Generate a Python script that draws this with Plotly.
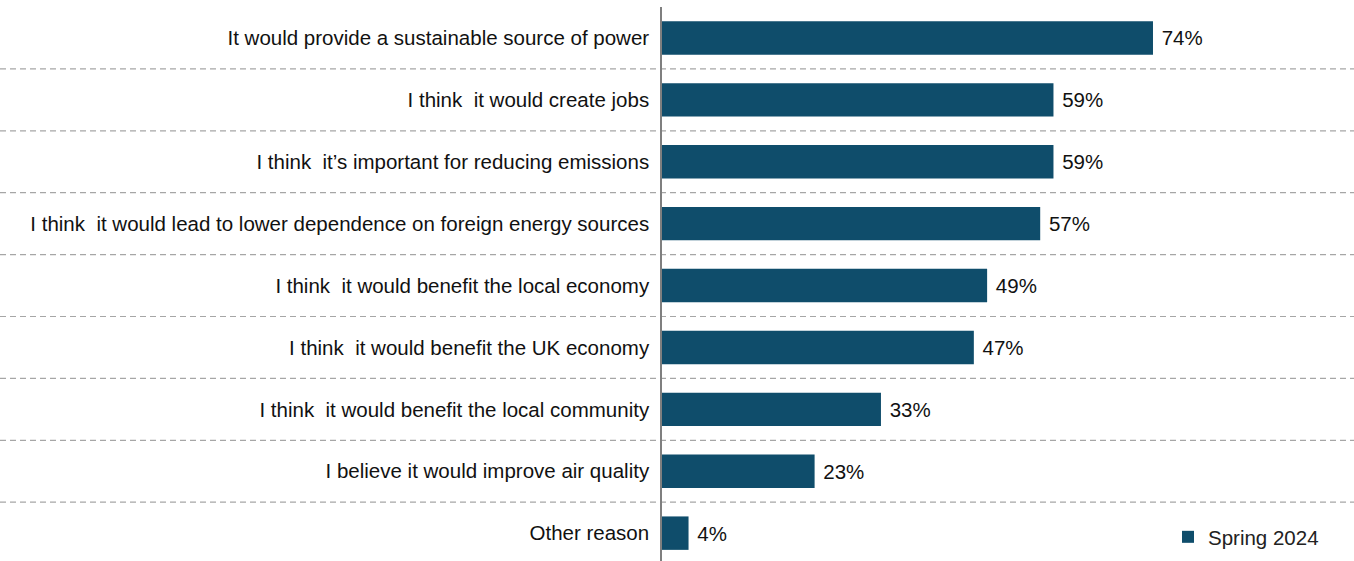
import plotly.graph_objects as go

categories = [
    "It would provide a sustainable source of power",
    "I think  it would create jobs",
    "I think  it’s important for reducing emissions",
    "I think  it would lead to lower dependence on foreign energy sources",
    "I think  it would benefit the local economy",
    "I think  it would benefit the UK economy",
    "I think  it would benefit the local community",
    "I believe it would improve air quality",
    "Other reason",
]
values = [74, 59, 59, 57, 49, 47, 33, 23, 4]
series_name = "Spring 2024"

W, H = 1354, 561
ML, MT = 662, 7
BAR_COLOR = "#0f4d6b"
FONT = "Liberation Sans, Arial, sans-serif"
FS = 20.5

fig = go.Figure()
fig.add_trace(go.Bar(
    x=values, y=categories, orientation="h",
    marker=dict(color=BAR_COLOR, line=dict(width=0)),
    width=0.54,
    text=[f"\u00a0{v}%" for v in values], textposition="outside",
    textfont=dict(size=FS, color="#111111", family=FONT),
    cliponaxis=False,
    name=series_name, showlegend=True,
))

plot_w = W - ML
plot_h = H - MT
for k in range(len(categories) - 1):
    fig.add_shape(type="line", xref="paper", yref="y",
                  x0=-ML / plot_w, x1=1, y0=k + 0.5, y1=k + 0.5,
                  line=dict(color="#a6a6a6", width=1.2, dash="6px,4px"), layer="below")

fig.update_layout(
    width=W, height=H,
    margin=dict(l=ML, r=0, t=MT, b=0, pad=0, autoexpand=False),
    plot_bgcolor="white", paper_bgcolor="white",
    font=dict(family=FONT, size=FS, color="#111111"),
    showlegend=True,
    legend=dict(x=(1168 - ML) / plot_w, y=(H - 537) / plot_h,
                xanchor="left", yanchor="middle",
                font=dict(size=FS, color="#222222", family=FONT),
                itemwidth=30, bgcolor="rgba(0,0,0,0)"),
    xaxis=dict(range=[0, plot_w / 6.635], showgrid=False, zeroline=False,
               showticklabels=False, showline=False, fixedrange=True),
    yaxis=dict(range=[8.45, -0.5], showgrid=False, zeroline=False,
               showline=True, linecolor="#7f7f7f", linewidth=1.5,
               ticks="outside", ticklen=7, tickcolor="rgba(0,0,0,0)",
               tickfont=dict(size=FS, color="#111111", family=FONT),
               fixedrange=True),
)

fig.write_html("out.html")
